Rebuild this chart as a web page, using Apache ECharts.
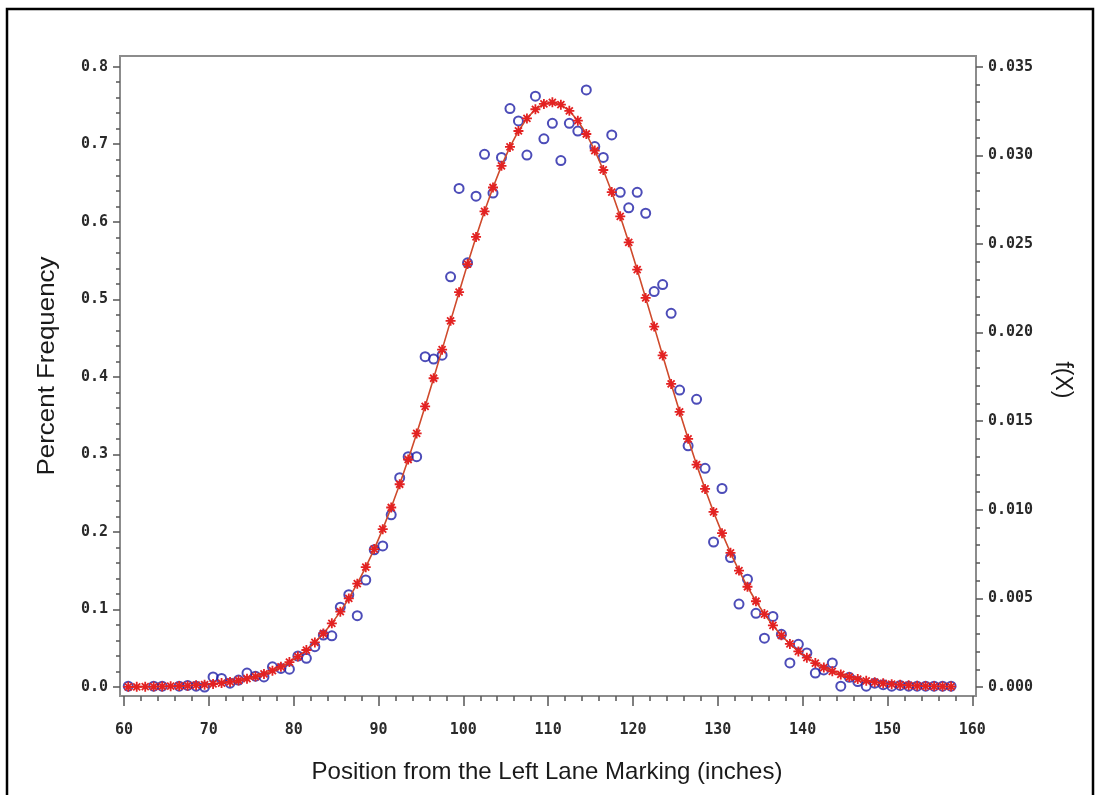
<!DOCTYPE html>
<html>
<head>
<meta charset="utf-8">
<script src="https://cdn.jsdelivr.net/npm/echarts@6/dist/echarts.min.js"></script>
<style>
html,body{margin:0;padding:0;background:#fff;}
#chart{width:1099px;height:795px;}
</style>
</head>
<body>
<div id="chart"></div>
<script>
// Observed percent frequency (blue circles): bin centres (inches) and values
const obsX = [60.5,63.5,64.5,66.5,67.5,68.5,69.5,70.5,71.5,72.5,73.5,74.5,75.5,76.5,77.5,78.5,79.5,80.5,81.5,82.5,83.5,84.5,85.5,86.5,87.5,88.5,89.5,90.5,91.5,92.5,93.5,94.5,95.5,96.5,97.5,98.5,99.5,100.5,101.5,102.5,103.5,104.5,105.5,106.5,107.5,108.5,109.5,110.5,111.5,112.5,113.5,114.5,115.5,116.5,117.5,118.5,119.5,120.5,121.5,122.5,123.5,124.5,125.5,126.5,127.5,128.5,129.5,130.5,131.5,132.5,133.5,134.5,135.5,136.5,137.5,138.5,139.5,140.5,141.5,142.5,143.5,144.5,145.5,146.5,147.5,148.5,149.5,150.5,151.5,152.5,153.5,154.5,155.5,156.5,157.5];
const obsY = [0.001,0.001,0.001,0.001,0.002,0.001,0.000,0.013,0.011,0.005,0.009,0.018,0.014,0.013,0.026,0.024,0.023,0.040,0.037,0.052,0.067,0.066,0.103,0.119,0.092,0.138,0.177,0.182,0.222,0.270,0.297,0.297,0.426,0.423,0.428,0.529,0.643,0.547,0.633,0.687,0.637,0.683,0.746,0.730,0.686,0.762,0.707,0.727,0.679,0.727,0.717,0.770,0.697,0.683,0.712,0.638,0.618,0.638,0.611,0.510,0.519,0.482,0.383,0.311,0.371,0.282,0.187,0.256,0.167,0.107,0.139,0.095,0.063,0.091,0.068,0.031,0.055,0.044,0.018,0.022,0.031,0.001,0.0125,0.007,0.001,0.005,0.003,0.001,0.002,0.001,0.001,0.001,0.001,0.001,0.001];

// Fitted curve (red stars + line), in left-axis units
const fitX = [60.5,61.5,62.5,63.5,64.5,65.5,66.5,67.5,68.5,69.5,70.5,71.5,72.5,73.5,74.5,75.5,76.5,77.5,78.5,79.5,80.5,81.5,82.5,83.5,84.5,85.5,86.5,87.5,88.5,89.5,90.5,91.5,92.5,93.5,94.5,95.5,96.5,97.5,98.5,99.5,100.5,101.5,102.5,103.5,104.5,105.5,106.5,107.5,108.5,109.5,110.5,111.5,112.5,113.5,114.5,115.5,116.5,117.5,118.5,119.5,120.5,121.5,122.5,123.5,124.5,125.5,126.5,127.5,128.5,129.5,130.5,131.5,132.5,133.5,134.5,135.5,136.5,137.5,138.5,139.5,140.5,141.5,142.5,143.5,144.5,145.5,146.5,147.5,148.5,149.5,150.5,151.5,152.5,153.5,154.5,155.5,156.5,157.5];
const fitY = [0.0002,0.0003,0.0004,0.0005,0.0007,0.0010,0.0013,0.0017,0.0023,0.0030,0.0039,0.0051,0.0065,0.0084,0.0107,0.0135,0.0169,0.0211,0.0261,0.0321,0.0393,0.0477,0.0575,0.0690,0.0821,0.0972,0.1142,0.1333,0.1545,0.1779,0.2036,0.2315,0.2615,0.2934,0.3270,0.3620,0.3982,0.4351,0.4722,0.5092,0.5454,0.5804,0.6135,0.6442,0.6721,0.6965,0.7171,0.7333,0.7451,0.7520,0.7540,0.7510,0.7431,0.7304,0.7132,0.6919,0.6668,0.6383,0.6070,0.5735,0.5382,0.5018,0.4648,0.4276,0.3909,0.3549,0.3201,0.2868,0.2554,0.2258,0.1984,0.1731,0.1501,0.1293,0.1106,0.0940,0.0794,0.0666,0.0555,0.0459,0.0378,0.0309,0.0250,0.0202,0.0162,0.0129,0.0102,0.0080,0.0062,0.0048,0.0037,0.0028,0.0022,0.0016,0.0012,0.0009,0.0007,0.0005];

// Tick values
const xMajor = [60,70,80,90,100,110,120,130,140,150,160];
const xMinor = [62,64,66,68,72,74,76,78,82,84,86,88,92,94,96,98,102,104,106,108,112,114,116,118,122,124,126,128,132,134,136,138,142,144,146,148,152,154,156,158];
const yLeftMajor = [0,0.1,0.2,0.3,0.4,0.5,0.6,0.7,0.8];
const yLeftMinor = [0.02,0.04,0.06,0.08,0.12,0.14,0.16,0.18,0.22,0.24,0.26,0.28,0.32,0.34,0.36,0.38,0.42,0.44,0.46,0.48,0.52,0.54,0.56,0.58,0.62,0.64,0.66,0.68,0.72,0.74,0.76,0.78];
const yRightMajor = [0,0.005,0.010,0.015,0.020,0.025,0.030,0.035];
const yRightMinor = [0.001,0.002,0.003,0.004,0.006,0.007,0.008,0.009,0.011,0.012,0.013,0.014,0.016,0.017,0.018,0.019,0.021,0.022,0.023,0.024,0.026,0.027,0.028,0.029,0.031,0.032,0.033,0.034];

const xTitle = 'Position from the Left Lane Marking (inches)';
const yLeftTitle = 'Percent Frequency';
const yRightTitle = 'f(X)';

const X_MIN = 59.528, X_MAX = 160.44;
const YL_MIN = -0.0116, YL_MAX = 0.8138;
const YR_MIN = YL_MIN * 0.04375, YR_MAX = YL_MAX * 0.04375;

const axisGray = '#8c8c8c';
const tickGray = '#555';
const labelFont = {fontFamily: 'DejaVu Sans Mono', fontWeight: 'bold', fontSize: 15, color: '#2a2a2a'};

const asterisk = 'path://M5,0L5,10M0,5L10,5M1.5,1.5L8.5,8.5M1.5,8.5L8.5,1.5';

function xAxisDef(major) {
  return {
    type: 'value', min: X_MIN, max: X_MAX, position: 'bottom', gridIndex: 0,
    axisLine: {show: true, onZero: false, lineStyle: {color: axisGray, width: 2}},
    splitLine: {show: false},
    axisTick: {show: true, customValues: major ? xMajor : xMinor, length: major ? 10 : 5, lineStyle: {color: tickGray, width: 1.5}},
    axisLabel: major ? Object.assign({show: true, customValues: xMajor, margin: 27, formatter: v => String(Math.round(v))}, labelFont) : {show: false}
  };
}
function yAxisDef(side, major) {
  const left = side === 'left';
  const min = left ? YL_MIN : YR_MIN, max = left ? YL_MAX : YR_MAX;
  const majorVals = left ? yLeftMajor : yRightMajor;
  const minorVals = left ? yLeftMinor : yRightMinor;
  return {
    type: 'value', min: min, max: max, position: side, gridIndex: 0,
    axisLine: {show: true, onZero: false, lineStyle: {color: axisGray, width: 2}},
    splitLine: {show: false},
    axisTick: {show: true, customValues: major ? majorVals : minorVals, length: major ? 7 : 4, lineStyle: {color: tickGray, width: 1.5}},
    axisLabel: major ? Object.assign({show: true, customValues: majorVals, margin: 12,
      formatter: v => left ? v.toFixed(1) : v.toFixed(3)}, labelFont) : {show: false}
  };
}

const chart = echarts.init(document.getElementById('chart'), null, {renderer: 'canvas'});
chart.setOption({
  animation: false,
  backgroundColor: '#ffffff',
  grid: {left: 120, right: 123, top: 56, bottom: 99, show: true, borderColor: axisGray, borderWidth: 2, backgroundColor: 'transparent'},
  xAxis: [xAxisDef(true), xAxisDef(false)],
  yAxis: [yAxisDef('left', true), yAxisDef('left', false), yAxisDef('right', true), yAxisDef('right', false)],
  graphic: [
    {type: 'rect', shape: {x: 7, y: 9, width: 1086, height: 820}, style: {fill: 'none', stroke: '#000', lineWidth: 2.5}, silent: true, z: 100},
    {type: 'text', x: 547, y: 772, style: {text: xTitle, font: '24px "Liberation Sans"', fill: '#1a1a1a', align: 'center', verticalAlign: 'middle'}},
    {type: 'text', x: 47, y: 366, rotation: Math.PI / 2, scaleX: 1.08, style: {text: yLeftTitle, font: '24px "Liberation Sans"', fill: '#1a1a1a', align: 'center', verticalAlign: 'middle'}},
    {type: 'text', x: 1062, y: 380, rotation: -Math.PI / 2, style: {text: yRightTitle, font: '23px "Liberation Sans"', fill: '#1a1a1a', align: 'center', verticalAlign: 'middle'}}
  ],
  series: [
    {
      name: 'Observed', type: 'scatter', xAxisIndex: 0, yAxisIndex: 0,
      data: obsX.map((x, i) => [x, obsY[i]]),
      symbol: 'circle', symbolSize: 9,
      itemStyle: {color: 'rgba(255,255,255,0)', borderColor: '#1f1fa6', borderWidth: 2},
      z: 2
    },
    {
      name: 'Fitted', type: 'line', xAxisIndex: 0, yAxisIndex: 0,
      data: fitX.map((x, i) => [x, fitY[i]]),
      showSymbol: true, symbol: asterisk, symbolSize: 10,
      itemStyle: {color: '#e32222', borderColor: '#e32222', borderWidth: 1.8},
      lineStyle: {color: '#cf4a2c', width: 1.6},
      z: 3
    }
  ]
});
</script>
</body>
</html>
